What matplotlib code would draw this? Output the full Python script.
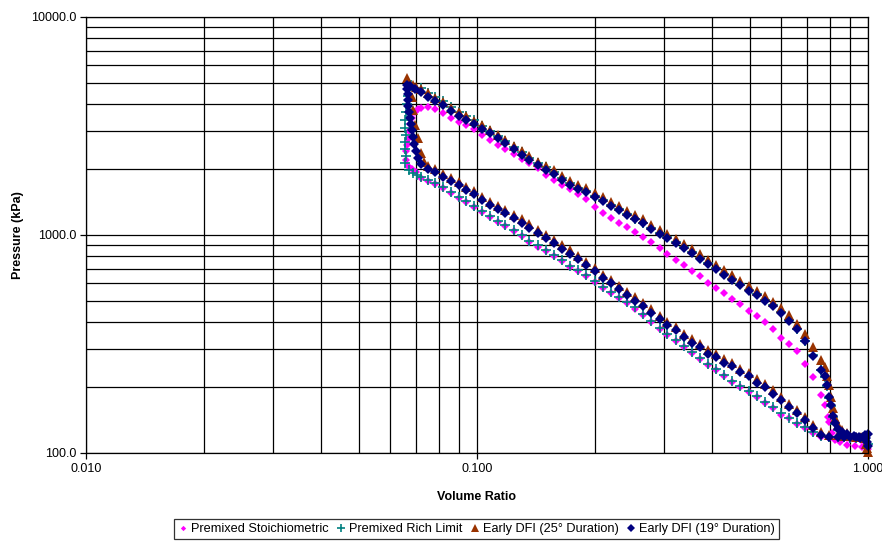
import numpy as np
import matplotlib.pyplot as plt
from matplotlib.ticker import FixedLocator, FormatStrFormatter, NullFormatter

plt.rcParams['font.family'] = ['Liberation Sans', 'DejaVu Sans']

# common volume-ratio positions for the compression / expansion lines
vol_grid = [0.072, 0.075, 0.078, 0.082, 0.086, 0.090, 0.094, 0.098, 0.103, 0.108,
            0.113, 0.118, 0.124, 0.130, 0.136, 0.143, 0.150, 0.157, 0.165, 0.173,
            0.181, 0.190, 0.200, 0.210, 0.220, 0.231, 0.242, 0.254, 0.266, 0.279,
            0.293, 0.307, 0.322, 0.338, 0.355, 0.372, 0.390, 0.409, 0.429, 0.450,
            0.472, 0.495, 0.519, 0.545, 0.571, 0.599, 0.628, 0.659, 0.691, 0.725,
            0.760, 0.797]

# Premixed Stoichiometric
stoich_upper = [3820, 3850, 3790, 3640, 3450, 3310, 3180, 3050, 2880, 2730,
                2590, 2480, 2350, 2230, 2130, 2020, 1890, 1780, 1700, 1620,
                1540, 1460, 1350, 1260, 1200, 1140, 1085, 1030, 980, 930,
                870, 820, 770, 730, 685, 645, 605, 570, 540, 510,
                480, 450, 425, 400, 370, 338, 315, 293, 255, 223,
                184, 138]
stoich_lower = [1830, 1770, 1710, 1640, 1565, 1485, 1420, 1350, 1275, 1210,
                1150, 1100, 1040, 985, 930, 885, 842, 800, 757, 713,
                683, 648, 609, 569, 540, 515, 490, 460, 428, 399,
                372, 349, 327, 307, 287, 270, 254, 240, 226, 212,
                200, 190, 181, 170, 160, 150, 144, 136, 130, 124,
                119, 117]
stoich_tdc_v = [0.0658, 0.0658, 0.0662, 0.0666, 0.0670, 0.0674, 0.0682, 0.0694, 0.0707,
                0.0666, 0.0682, 0.0698]
stoich_tdc_p = [2208, 2430, 2587, 2757, 3000, 3230, 3442, 3666, 3785,
                2073, 2009, 1947]
stoich_bdc_v = [0.776, 0.789, 0.808, 0.823, 0.848, 0.884, 0.928, 0.968,
                0.84, 0.87, 0.90, 0.93, 0.96, 0.99, 1.0]
stoich_bdc_p = [166, 147, 124, 115, 112, 109, 108, 107,
                117, 117, 116, 116, 115, 110, 104]

# Premixed Rich Limit
rich_upper = [4700, 4480, 4285, 4100, 3860, 3670, 3515, 3360, 3145, 3005,
              2850, 2695, 2530, 2390, 2265, 2140, 2040, 1950, 1835, 1730,
              1645, 1585, 1515, 1445, 1375, 1315, 1250, 1190, 1140, 1080,
              1020, 975, 925, 880, 833, 783, 742, 702, 662, 628,
              596, 561, 535, 505, 475, 444, 409, 372, 327, 282,
              240, 178]
rich_lower = [1850, 1790, 1725, 1655, 1580, 1500, 1435, 1365, 1290, 1220,
              1160, 1110, 1050, 995, 940, 895, 850, 808, 765, 720,
              690, 655, 615, 575, 545, 520, 495, 465, 432, 403,
              376, 353, 330, 310, 290, 273, 257, 242, 228, 214,
              202, 192, 183, 172, 162, 152, 145, 137, 131, 125,
              120, 118]
rich_tdc_v = [0.0654, 0.0658, 0.0654, 0.0654, 0.0658, 0.0654, 0.0654, 0.0658, 0.0662,
              0.0666, 0.0670, 0.0680, 0.0670, 0.0686, 0.0703]
rich_tdc_p = [2140, 2300, 2480, 2670, 2880, 3100, 3370, 3670, 3990,
              4340, 4600, 4850, 1987, 1925, 1885]
rich_bdc_v = [0.777, 0.786, 0.804, 0.812, 0.823, 0.838,
              0.84, 0.87, 0.90, 0.93, 0.96, 0.98, 0.99, 1.0]
rich_bdc_p = [224, 203, 165, 147, 136, 128,
              118, 118, 117, 117, 117, 115, 112, 110]

# Early DFI (25 deg)
dfi25_upper = [4680, 4460, 4260, 4080, 3840, 3660, 3500, 3350, 3180, 3040,
               2880, 2730, 2560, 2420, 2300, 2170, 2070, 1980, 1860, 1760,
               1700, 1640, 1560, 1490, 1415, 1355, 1295, 1230, 1180, 1115,
               1055, 1010, 960, 910, 865, 815, 770, 728, 688, 652,
               618, 582, 556, 525, 494, 463, 428, 392, 350, 305,
               266, 205]
dfi25_lower = [np.nan, 2075, 2005, 1910, 1830, 1745, 1665, 1590, 1500, 1420,
               1360, 1305, 1240, 1183, 1118, 1057, 1000, 948, 897, 850,
               804, 752, 705, 658, 622, 586, 550, 519, 487, 456,
               425, 399, 378, 353, 332, 316, 296, 285, 270, 258,
               243, 233, 218, 207, 194, 181, 168, 158, 147, 135,
               125, 121]
dfi25_tdc_v = [0.0662, 0.0681, 0.0687, 0.0694, 0.0705, 0.0719, 0.0733, 0.0686, 0.0700]
dfi25_tdc_p = [5250, 4310, 3745, 3196, 2778, 2370, 2168, 4900, 4780]
dfi25_bdc_v = [0.777, 0.786, 0.804, 0.812, 0.823, 0.838, 0.857, 0.886,
               0.84, 0.87, 0.90, 0.93, 0.96, 0.98, 0.99, 1.0, 0.995]
dfi25_bdc_p = [248, 225, 180, 160, 144, 134, 128, 124,
               121, 120, 120, 119, 119, 117, 110, 101, 105]

# Early DFI (19 deg)
dfi19_upper = [4520, 4310, 4120, 3940, 3710, 3530, 3380, 3230, 3070, 2930,
               2780, 2630, 2470, 2330, 2210, 2090, 1990, 1900, 1790, 1690,
               1630, 1570, 1500, 1430, 1360, 1300, 1240, 1180, 1130, 1070,
               1010, 965, 915, 870, 825, 775, 735, 695, 655, 622,
               590, 555, 530, 500, 470, 440, 405, 370, 325, 280,
               240, 180]
dfi19_lower = [2110, 2010, 1940, 1850, 1770, 1690, 1609, 1535, 1450, 1370,
               1310, 1260, 1195, 1140, 1080, 1020, 965, 915, 865, 820,
               775, 725, 680, 635, 600, 565, 531, 500, 470, 440,
               410, 385, 365, 340, 320, 305, 285, 275, 260, 250,
               235, 225, 210, 200, 187, 175, 163, 153, 142, 130,
               121, 119]
dfi19_tdc_v = [0.0707, 0.0698, 0.0690, 0.0686, 0.0682, 0.0678, 0.0674, 0.0670, 0.0666,
               0.0666, 0.0666, 0.0662, 0.0662, 0.0674, 0.0694]
dfi19_tdc_p = [2255, 2430, 2615, 2816, 3030, 3230, 3440, 3670, 3905,
               4160, 4430, 4670, 4876, 4824, 4650]
dfi19_bdc_v = [0.777, 0.786, 0.804, 0.812, 0.823, 0.838, 0.857, 0.886, 0.92, 0.95,
               0.84, 0.87, 0.90, 0.93, 0.955, 0.97, 0.98, 0.99, 0.995, 1.0, 1.0]
dfi19_bdc_p = [226, 205, 166, 148, 137, 129, 125, 122, 120, 119,
               119, 118, 118, 118, 117, 118, 121, 117, 112, 108, 122]


def series(upper, lower, tdc_v, tdc_p, bdc_v, bdc_p):
    v = np.concatenate([vol_grid, vol_grid, tdc_v, bdc_v])
    p = np.concatenate([upper, lower, tdc_p, bdc_p])
    return v, p


fig = plt.figure(figsize=(8.82, 5.44), dpi=100)
ax = fig.add_axes([0.0975, 0.1673, 0.8866, 0.8015])
ax.set_xscale('log')
ax.set_yscale('log')

styles = [
    ('Premixed Stoichiometric', series(stoich_upper, stoich_lower, stoich_tdc_v, stoich_tdc_p, stoich_bdc_v, stoich_bdc_p),
     dict(marker='D', color='#FF00FF', markersize=3.6, markeredgewidth=0)),
    ('Premixed Rich Limit', series(rich_upper, rich_lower, rich_tdc_v, rich_tdc_p, rich_bdc_v, rich_bdc_p),
     dict(marker='+', color='#008080', markersize=7, markeredgewidth=1.2)),
    ('Early DFI (25° Duration)', series(dfi25_upper, dfi25_lower, dfi25_tdc_v, dfi25_tdc_p, dfi25_bdc_v, dfi25_bdc_p),
     dict(marker='^', color='#993300', markersize=6.8, markeredgewidth=0)),
    ('Early DFI (19° Duration)', series(dfi19_upper, dfi19_lower, dfi19_tdc_v, dfi19_tdc_p, dfi19_bdc_v, dfi19_bdc_p),
     dict(marker='D', color='#000080', markersize=5.6, markeredgewidth=0)),
]

handles = []
for label, (v, p), st in styles:
    h, = ax.plot(v, p, linestyle='none', label=label, clip_on=False, **st)
    handles.append(h)

ax.set_xlim(0.01, 1.0)
ax.set_ylim(100, 10000)

ax.xaxis.set_major_locator(FixedLocator([0.01, 0.1, 1.0]))
ax.xaxis.set_major_formatter(FormatStrFormatter('%.3f'))
ax.xaxis.set_minor_locator(FixedLocator([k * d for d in (0.01, 0.1) for k in range(2, 10)]))
ax.xaxis.set_minor_formatter(NullFormatter())
ax.yaxis.set_major_locator(FixedLocator([100, 1000, 10000]))
ax.yaxis.set_major_formatter(FormatStrFormatter('%.1f'))
ax.yaxis.set_minor_locator(FixedLocator([k * d for d in (100, 1000) for k in range(2, 10)]))
ax.yaxis.set_minor_formatter(NullFormatter())

ax.grid(True, which='both', color='black', linewidth=0.9)
ax.set_axisbelow(True)
for s in ax.spines.values():
    s.set_color('black')
    s.set_linewidth(0.9)

ax.tick_params(which='major', direction='out', length=4, width=0.9, labelsize=9, pad=3)
ax.tick_params(which='minor', length=0)

ax.set_xlabel('Volume Ratio', fontsize=9, fontweight='bold', labelpad=12)
ax.set_ylabel('Pressure (kPa)', fontsize=9, fontweight='bold', labelpad=5)

leg = fig.legend(handles=handles, loc='center', bbox_to_anchor=(0.5405, 0.0276), ncol=4,
                 fontsize=9.2, frameon=True, fancybox=False, edgecolor='black',
                 handlelength=0.7, handletextpad=0.3, columnspacing=0.6,
                 borderpad=0.3, borderaxespad=0, markerscale=0.75)
leg.get_frame().set_linewidth(0.9)

fig.savefig('out.png', dpi=100)
